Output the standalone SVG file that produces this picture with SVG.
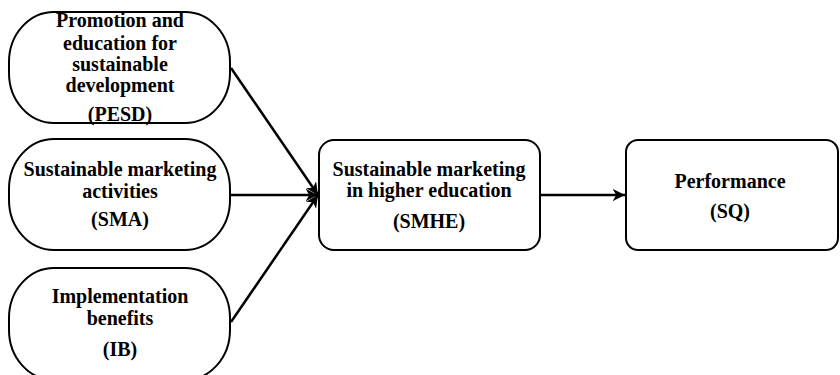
<svg xmlns="http://www.w3.org/2000/svg" width="840" height="375" viewBox="0 0 840 375">
<defs>
<style>
.n{fill:#fff;stroke:#000;stroke-width:2}
.t{font-family:"Liberation Serif","Times New Roman",serif;font-weight:bold;font-size:20px;fill:#000;text-anchor:middle}
.c{stroke:#000;stroke-width:2.5;fill:none}
</style>
<marker id="ah" viewBox="0 0 10 10" refX="10" refY="5" markerWidth="5" markerHeight="5" orient="auto" markerUnits="strokeWidth">
<path d="M0,0 L10,5 L0,10 L3,5 z" fill="#000"/>
</marker>
</defs>
<rect width="840" height="375" fill="#fff"/>
<g id="connectors">
<line class="c" x1="231" y1="68" x2="318" y2="195" marker-end="url(#ah)"/>
<line class="c" x1="231" y1="195" x2="318" y2="195" marker-end="url(#ah)"/>
<line class="c" x1="231" y1="322" x2="318" y2="195" marker-end="url(#ah)"/>
<line class="c" x1="541" y1="195" x2="625" y2="195" marker-end="url(#ah)"/>
</g>
<g id="PESD">
<rect class="n" x="9" y="12" width="221" height="111" rx="45" ry="50"/>
<text class="t" x="120" y="27">Promotion and</text>
<text class="t" x="120" y="50">education for</text>
<text class="t" x="120" y="71">sustainable</text>
<text class="t" x="120" y="92">development</text>
<text class="t" x="120" y="121">(PESD)</text>
</g>
<g id="SMA">
<rect class="n" x="9" y="139" width="221" height="111" rx="45" ry="50"/>
<text class="t" x="120" y="176">Sustainable marketing</text>
<text class="t" x="120" y="198">activities</text>
<text class="t" x="120" y="226">(SMA)</text>
</g>
<g id="IB">
<rect class="n" x="9" y="268" width="221" height="112" rx="45" ry="50"/>
<text class="t" x="120" y="303">Implementation</text>
<text class="t" x="120" y="325">benefits</text>
<text class="t" x="120" y="356">(IB)</text>
</g>
<g id="SMHE">
<rect class="n" x="319" y="140" width="221" height="110" rx="15" ry="15"/>
<text class="t" x="429" y="176">Sustainable marketing</text>
<text class="t" x="429" y="197">in higher education</text>
<text class="t" x="429" y="228">(SMHE)</text>
</g>
<g id="SQ">
<rect class="n" x="626" y="140" width="212" height="110" rx="12" ry="12"/>
<text class="t" x="730" y="188">Performance</text>
<text class="t" x="730" y="218">(SQ)</text>
</g>
</svg>
